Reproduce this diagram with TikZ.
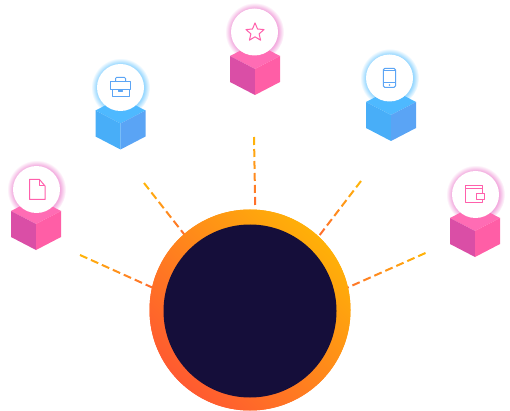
\documentclass[tikz,border=0pt]{standalone}
\usetikzlibrary{calc,shapes.geometric}
\definecolor{dashstart}{RGB}{255,178,10}
\definecolor{dashend}{RGB}{255,112,44}
\definecolor{flamelow}{RGB}{255,90,48}
\definecolor{flamehigh}{RGB}{255,176,8}
\definecolor{night}{RGB}{21,14,58}
\definecolor{pinktop}{RGB}{255,108,180}
\definecolor{pinkleft}{RGB}{218,78,166}
\definecolor{pinkright}{RGB}{255,94,166}
\definecolor{pinkicon}{RGB}{255,96,172}
\definecolor{pinkglow}{RGB}{242,170,222}
\definecolor{bluetop}{RGB}{78,185,255}
\definecolor{blueleft}{RGB}{72,174,248}
\definecolor{blueright}{RGB}{90,164,245}
\definecolor{blueicon}{RGB}{92,165,245}
\definecolor{blueglow}{RGB}{150,215,255}
\pgfdeclareradialshading{pinkhalo}{\pgfpointorigin}{color(0bp)=(pinkglow); color(20bp)=(pinkglow); color(25bp)=(white); color(50bp)=(white)}
\pgfdeclareradialshading{bluehalo}{\pgfpointorigin}{color(0bp)=(blueglow); color(20bp)=(blueglow); color(25bp)=(white); color(50bp)=(white)}
\tikzset{
  ray/.style={line width=2pt},
  badge/.style={circle,fill=white,minimum size=47pt,inner sep=0pt},
  halo/.style={circle,minimum size=59pt,inner sep=0pt},
  flame/.style={circle,minimum size=201pt,inner sep=0pt,left color=flamehigh,right color=flamelow,shading angle=-45},
  icon/.style={line width=1pt,line join=round},
}
\newcommand{\dashray}[3]{%
  \foreach \i in {1,...,#3}{
    \pgfmathsetmacro\mixval{100*(\i-1)/(#3-1)}
    \pgfmathsetmacro\dashfrom{12*(\i-1)}
    \pgfmathsetmacro\dashto{12*(\i-1)+8}
    \draw[ray,draw=dashend!\mixval!dashstart] ($(#1)!\dashfrom pt!(hub.#2)$) -- ($(#1)!\dashto pt!(hub.#2)$);
  }}
\begin{document}
\begin{tikzpicture}[x=1pt,y=-1pt]
  \useasboundingbox (0,0) rectangle (510,411);
  \node[flame] (hub) at (250,310) {};
  \coordinate (far1) at (80,255);
  \coordinate (far2) at (144,183);
  \coordinate (far3) at (254,137);
  \coordinate (far4) at (361,181);
  \coordinate (far5) at (425.5,253);
  \dashray{far1}{167}{7}
  \dashray{far2}{131}{6}
  \dashray{far3}{87.7}{6}
  \dashray{far4}{47}{6}
  \dashray{far5}{13}{8}
  % redrawn over the dash ends
  \node[flame] (ring) at (250,310) {};
  \node[circle,fill=night,minimum size=173pt,inner sep=0pt] (core) at (250,311) {};
  % cubes with their badges
  \foreach \n/\cx/\cy/\bx/\by/\kind in {1/36/224/36.5/189.5/pink,2/120.5/123.5/120.5/87.5/blue,3/255/69/254.5/32/pink,4/391/115/389.5/78/blue,5/475/231/475.5/194.5/pink}{
    \node[halo,shading=\kind halo] (halo\n) at (\bx,\by) {};
    \begin{scope}[shift={(\cx,\cy)}]
      \fill[\kind top] (0,0) -- (-25,-13) -- (0,-26) -- (25,-13) -- cycle;
      \fill[\kind left] (0,0) -- (-25,-13) -- (-25,13) -- (0,26) -- cycle;
      \fill[\kind right] (0,0) -- (25,-13) -- (25,13) -- (0,26) -- cycle;
    \end{scope}
    \node[badge] (badge\n) at (\bx,\by) {};
  }
  % sheet
  \begin{scope}[shift={(badge1)},icon,color=pinkicon]
    \draw (-7,-10) -- (3,-10) -- (8.5,-3.5) -- (8.5,10) -- (-7,10) -- cycle;
    \draw (3,-10) -- (3,-3.5) -- (8.5,-3.5);
  \end{scope}
  % case
  \begin{scope}[shift={(badge2)},icon,color=blueicon]
    \draw (-10,-6) rectangle (10,2);
    \draw (-8.5,2) -- (-8.5,9.2) -- (8.5,9.2) -- (8.5,2);
    \draw[rounded corners=1pt] (-5,-6) -- (-5,-10) -- (5,-10) -- (5,-6);
    \draw[line width=.6pt] (-2,2.5) rectangle (2,4);
  \end{scope}
  % star
  \node[star,star points=5,star point ratio=2.2,draw=pinkicon,icon,minimum size=19pt,inner sep=0pt] (staricon) at ($(badge3)+(.5,.5)$) {};
  % phone
  \begin{scope}[shift={(badge4)},icon,color=blueicon]
    \draw[rounded corners=1.5pt] (-6.2,-9.6) rectangle (6,9.4);
    \draw (-6.2,-7) -- (6,-7);
    \draw (-6.2,4.3) -- (6,4.3);
    \fill (0,7) circle (.8);
  \end{scope}
  % wallet
  \begin{scope}[shift={(badge5)},icon,color=pinkicon]
    \draw (7,-1) -- (7,-8.5) -- (-10.5,-8.5) -- (-10.5,7.8) -- (7,7.8) -- (7,5);
    \draw (-10.5,-5.5) -- (7,-5.5);
    \draw (8.8,-.5) -- (1.2,-.5) -- (1.2,4.8) -- (8.8,4.8) -- cycle;
  \end{scope}
\end{tikzpicture}
\end{document}
